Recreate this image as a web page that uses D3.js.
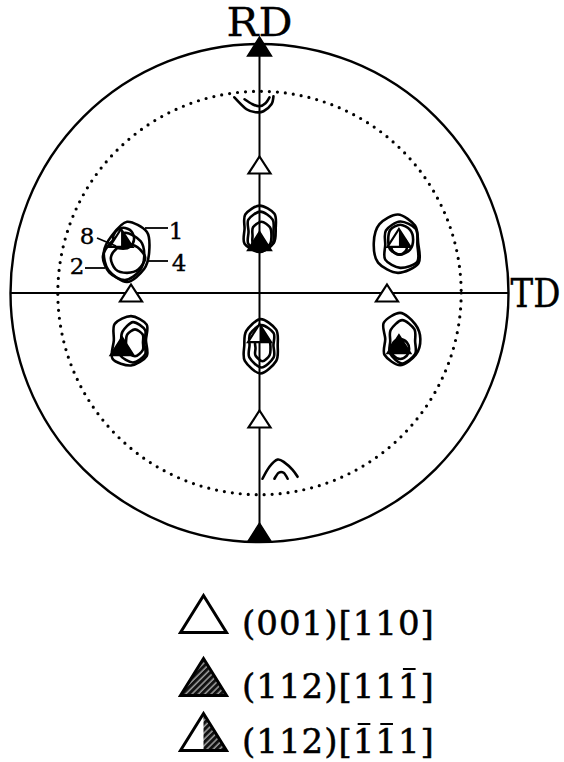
<!DOCTYPE html>
<html>
<head>
<meta charset="utf-8">
<script src="https://cdn.jsdelivr.net/npm/d3@7"></script>
<style>
  html, body { margin: 0; padding: 0; background: #fff; }
  svg { display: block; }
</style>
</head>
<body>
<svg id="chart" width="564" height="762"></svg>
<script>
// Pole figure (stereographic projection). All positions are in projection
// units, where the outer circle has radius 1 and RD points up, TD to the right.

const axisNames = ["RD", "TD"];
const measuredLimit = 0.81;            // edge of the measured region (dotted circle)
const contourLevels = [1, 2, 4, 8];

// Ideal orientation poles
const poles001_110 = [[0, 0.514], [0, -0.506], [-0.516, 0.0], [0.512, 0.0]];
const poles112_11m1 = [[0, 0.99], [0, -0.962], [0, 0.209], [-0.552, -0.213], [0.560, -0.205]];
const poles112_m1m11 = [[-0.556, 0.221], [0.560, 0.221], [0, -0.161]];

// Closed iso-intensity lines: centre and radius every 45 deg, clockwise from RD
const contourRings = [
  { level: 1, c: [-0.532, 0.165], r: [0.121, 0.113, 0.089, 0.097, 0.121, 0.105, 0.093, 0.089] },
  { level: 2, c: [-0.540, 0.145], r: [0.097, 0.089, 0.077, 0.081, 0.093, 0.089, 0.089, 0.081] },
  { level: 4, c: [-0.532, 0.141], r: [0.056, 0.060, 0.073, 0.065, 0.060, 0.065, 0.065, 0.056] },
  { level: 8, c: [-0.548, 0.214], r: [0.048, 0.048, 0.044, 0.040, 0.036, 0.040, 0.040, 0.044] },

  { level: 1, c: [0.556, 0.202], r: [0.113, 0.097, 0.081, 0.117, 0.121, 0.113, 0.097, 0.105] },
  { level: 2, c: [0.565, 0.194], r: [0.093, 0.089, 0.069, 0.097, 0.093, 0.085, 0.060, 0.081] },
  { level: 4, c: [0.565, 0.214], r: [0.060, 0.056, 0.052, 0.056, 0.060, 0.056, 0.048, 0.056] },
  { level: 8, c: [0.561, 0.190], r: [0.036, 0.034, 0.032, 0.034, 0.036, 0.034, 0.032, 0.034] },

  { level: 1, c: [-0.516, -0.190], r: [0.097, 0.089, 0.060, 0.089, 0.101, 0.105, 0.069, 0.093] },
  { level: 2, c: [-0.508, -0.198], r: [0.081, 0.069, 0.044, 0.069, 0.081, 0.073, 0.048, 0.060] },
  { level: 4, c: [-0.500, -0.198], r: [0.052, 0.044, 0.032, 0.044, 0.056, 0.048, 0.036, 0.044] },

  { level: 1, c: [0.565, -0.185], r: [0.105, 0.085, 0.081, 0.089, 0.105, 0.089, 0.060, 0.093] },
  { level: 2, c: [0.573, -0.194], r: [0.085, 0.069, 0.052, 0.073, 0.089, 0.069, 0.048, 0.065] },
  { level: 4, c: [0.565, -0.225], r: [0.040, 0.038, 0.036, 0.038, 0.040, 0.038, 0.036, 0.038] },

  { level: 1, c: [0.000, 0.258], r: [0.093, 0.085, 0.065, 0.081, 0.093, 0.085, 0.060, 0.081] },
  { level: 2, c: [0.004, 0.246], r: [0.081, 0.069, 0.052, 0.069, 0.081, 0.069, 0.048, 0.069] },
  { level: 4, c: [0.008, 0.230], r: [0.056, 0.048, 0.040, 0.048, 0.056, 0.048, 0.036, 0.048] },

  { level: 1, c: [0.004, -0.210], r: [0.105, 0.089, 0.069, 0.089, 0.113, 0.089, 0.065, 0.081] },
  { level: 2, c: [0.008, -0.210], r: [0.081, 0.069, 0.048, 0.069, 0.089, 0.069, 0.048, 0.065] },
  { level: 4, c: [0.012, -0.222], r: [0.048, 0.040, 0.032, 0.040, 0.052, 0.040, 0.028, 0.040] }
];

// Iso-intensity lines cut by the edge of the measured region
const openContours = [
  { level: 1, pts: [[-0.101, 0.786], [-0.052, 0.738], [-0.016, 0.726], [0.016, 0.730], [0.048, 0.758], [0.056, 0.790]] },
  { level: 2, pts: [[-0.060, 0.778], [-0.028, 0.758], [0.000, 0.750], [0.024, 0.762], [0.040, 0.786]] },
  { level: 1, pts: [[0.012, -0.746], [0.040, -0.698], [0.073, -0.669], [0.101, -0.681], [0.133, -0.710], [0.153, -0.738]] },
  { level: 2, pts: [[0.060, -0.746], [0.077, -0.722], [0.097, -0.722], [0.113, -0.746]] }
];

// Legend entries: plane (hkl) and direction [uvw]
const legendPlanes = [[0, 0, 1], [1, 1, 2], [1, 1, 2]];
const legendDirections = [[1, 1, 0], [1, 1, -1], [-1, -1, 1]];
const legendMarks = ["open", "filled", "half"];

// ---------------------------------------------------------------------------
const svg = d3.select("#chart");
const cx = 259.5, cy = 293, R = 249;

const x = d3.scaleLinear().domain([-1, 1]).range([cx - R, cx + R]);
const y = d3.scaleLinear().domain([-1, 1]).range([cy + R, cy - R]);
const rad = d3.scaleLinear().domain([0, 1]).range([0, R]);

const serif = "DejaVu Serif, serif";

const defs = svg.append("defs");
const hatch = defs.append("pattern")
  .attr("id", "hatch")
  .attr("patternUnits", "userSpaceOnUse")
  .attr("width", 4.5).attr("height", 4.5)
  .attr("patternTransform", "rotate(45)");
hatch.append("rect").attr("width", 4.5).attr("height", 4.5).attr("fill", "#111");
hatch.append("line").attr("x1", 1).attr("y1", 0).attr("x2", 1).attr("y2", 4.5)
  .attr("stroke", "#fff").attr("stroke-width", 0.9);

const plot = svg.append("g");

// Projection circle and measured-region limit
plot.append("circle")
  .attr("cx", x(0)).attr("cy", y(0)).attr("r", rad(1))
  .attr("fill", "none").attr("stroke", "#000").attr("stroke-width", 2.4);

plot.append("circle")
  .attr("cx", x(0)).attr("cy", y(0)).attr("r", rad(measuredLimit))
  .attr("fill", "none").attr("stroke", "#000").attr("stroke-width", 3.2)
  .attr("stroke-linecap", "round").attr("stroke-dasharray", "0 8");

// RD and TD axes
plot.append("line")
  .attr("x1", x(0)).attr("x2", x(0)).attr("y1", y(1)).attr("y2", y(-1))
  .attr("stroke", "#000").attr("stroke-width", 2);
plot.append("line")
  .attr("x1", x(-1)).attr("x2", x(1)).attr("y1", y(0)).attr("y2", y(0))
  .attr("stroke", "#000").attr("stroke-width", 2);

plot.append("text")
  .attr("x", x(0) - 33).attr("y", y(1) - 8)
  .attr("font-family", serif).attr("font-size", 40)
  .attr("textLength", 66).attr("lengthAdjust", "spacingAndGlyphs")
  .attr("stroke", "#000").attr("stroke-width", 0.3)
  .text(axisNames[0]);
// TD: slightly compressed horizontally so it fits beside the circle
plot.append("text")
  .attr("transform", `translate(${x(1) + 2},${y(0) + 14}) scale(1,1.15)`)
  .attr("font-family", serif).attr("font-size", 34)
  .attr("stroke", "#000").attr("stroke-width", 0.3)
  .text(axisNames[1]);

// Contours
const ring = d3.lineRadial()
  .angle((d, i, arr) => i / arr.length * 2 * Math.PI)
  .radius(d => rad(d))
  .curve(d3.curveCardinalClosed.tension(0.1));

plot.append("g").selectAll("path")
  .data(contourRings)
  .join("path")
  .attr("transform", d => `translate(${x(d.c[0])},${y(d.c[1])})`)
  .attr("d", d => ring(d.r))
  .attr("fill", "none").attr("stroke", "#000").attr("stroke-width", 2.6)
  .attr("stroke-linejoin", "round");

const openLine = d3.line()
  .x(d => x(d[0])).y(d => y(d[1]))
  .curve(d3.curveCardinal.tension(0.1));

plot.append("g").selectAll("path")
  .data(openContours)
  .join("path")
  .attr("d", d => openLine(d.pts))
  .attr("fill", "none").attr("stroke", "#000").attr("stroke-width", 2.6)
  .attr("stroke-linecap", "round");

// Triangle markers
function triPath(px, py, w, h) {
  const p = d3.path();
  p.moveTo(px, py - h / 2);
  p.lineTo(px + w / 2, py + h / 2);
  p.lineTo(px - w / 2, py + h / 2);
  p.closePath();
  return p.toString();
}
function rightHalfPath(px, py, w, h) {
  const p = d3.path();
  p.moveTo(px, py - h / 2);
  p.lineTo(px + w / 2, py + h / 2);
  p.lineTo(px, py + h / 2);
  p.closePath();
  return p.toString();
}

function drawMarker(g, kind, px, py, w, h, fill, sw) {
  if (kind === "open") {
    g.append("path").attr("d", triPath(px, py, w, h))
      .attr("fill", "#fff").attr("stroke", "#000").attr("stroke-width", sw)
      .attr("stroke-linejoin", "miter");
  } else if (kind === "filled") {
    g.append("path").attr("d", triPath(px, py, w, h))
      .attr("fill", fill).attr("stroke", "#000").attr("stroke-width", sw)
      .attr("stroke-linejoin", "miter");
  } else {
    g.append("path").attr("d", triPath(px, py, w, h))
      .attr("fill", "#fff").attr("stroke", "none");
    g.append("path").attr("d", rightHalfPath(px, py, w, h))
      .attr("fill", fill).attr("stroke", "none");
    g.append("path").attr("d", triPath(px, py, w, h))
      .attr("fill", "none").attr("stroke", "#000").attr("stroke-width", sw)
      .attr("stroke-linejoin", "miter");
  }
}

const marks = plot.append("g");
poles001_110.forEach(d => drawMarker(marks, "open", x(d[0]), y(d[1]), 22, 17, "#000", 2.2));
poles112_11m1.forEach(d => drawMarker(marks, "filled", x(d[0]), y(d[1]), 24, 19, "#000", 1.5));
poles112_m1m11.forEach(d => drawMarker(marks, "half", x(d[0]), y(d[1]), 23, 18, "#000", 2.2));

// Contour level callouts
const callouts = [
  { level: 8, tx: 87,  ty: 244, x1: 97,  y1: 238, x2: 116, y2: 246 },
  { level: 1, tx: 176, ty: 239, x1: 168, y1: 228, x2: 145, y2: 228 },
  { level: 2, tx: 77,  ty: 274, x1: 85,  y1: 268, x2: 105, y2: 268 },
  { level: 4, tx: 179, ty: 271, x1: 168, y1: 261, x2: 148, y2: 261 }
];
const co = plot.append("g");
co.selectAll("line").data(callouts).join("line")
  .attr("x1", d => d.x1).attr("y1", d => d.y1)
  .attr("x2", d => d.x2).attr("y2", d => d.y2)
  .attr("stroke", "#000").attr("stroke-width", 1.8);
co.selectAll("text").data(callouts).join("text")
  .attr("x", d => d.tx).attr("y", d => d.ty)
  .attr("text-anchor", "middle")
  .attr("font-family", serif).attr("font-size", 23)
  .attr("stroke", "#000").attr("stroke-width", 0.4)
  .text(d => contourLevels.includes(d.level) ? d.level : "");

// Legend
const legendRows = [635, 698, 753];
const legend = svg.append("g");
legendMarks.forEach((kind, i) => {
  const base = legendRows[i];
  drawMarker(legend, kind, 203.5, base - 21, 46, 37, "url(#hatch)", 3);

  const plane = legendPlanes[i].map(Math.abs).join("");
  const dir = legendDirections[i].map(Math.abs).join("");
  const label = legend.append("text")
    .attr("x", 242).attr("y", base)
    .attr("font-family", serif).attr("font-size", 34)
    .attr("letter-spacing", 1)
    .attr("stroke", "#000").attr("stroke-width", 0.5)
    .text(`(${plane})[${dir}]`);

  const node = label.node();
  legendDirections[i].forEach((v, k) => {
    if (v < 0) {
      const ext = node.getExtentOfChar(plane.length + 3 + k);
      legend.append("line")
        .attr("x1", ext.x + ext.width * 0.22).attr("x2", ext.x + ext.width * 0.78)
        .attr("y1", base - 29).attr("y2", base - 29)
        .attr("stroke", "#000").attr("stroke-width", 2);
    }
  });
});
</script>
</body>
</html>
